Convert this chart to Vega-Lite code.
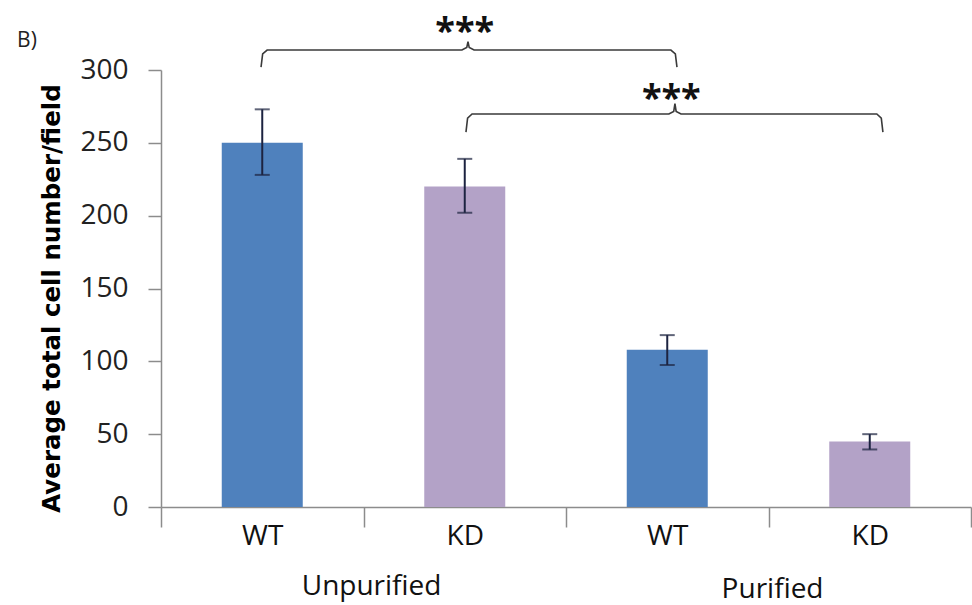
{
  "$schema": "https://vega.github.io/schema/vega-lite/v6.json",
  "width": 810,
  "height": 437,
  "autosize": {"type": "none"},
  "padding": {"left": 161, "top": 70, "right": 1, "bottom": 98},
  "background": "white",
  "config": {
    "font": "Open Sans",
    "view": {"stroke": null}
  },
  "datasets": {
    "bars": [
      {"id": "WT-U", "group": "Unpurified", "genotype": "WT", "mean": 250, "lo": 228, "hi": 273},
      {"id": "KD-U", "group": "Unpurified", "genotype": "KD", "mean": 220, "lo": 202, "hi": 239},
      {"id": "WT-P", "group": "Purified", "genotype": "WT", "mean": 108, "lo": 97.5, "hi": 118},
      {"id": "KD-P", "group": "Purified", "genotype": "KD", "mean": 45, "lo": 39.5, "hi": 50}
    ],
    "brackets": [
      {"b": "A", "k": 0, "pos": 0.494, "val": 302},
      {"b": "A", "k": 1, "pos": 0.502, "val": 311},
      {"b": "A", "k": 2, "pos": 0.524, "val": 313.7},
      {"b": "A", "k": 3, "pos": 1.486, "val": 313.7},
      {"b": "A", "k": 4, "pos": 1.510, "val": 315.5},
      {"b": "A", "k": 5, "pos": 1.516, "val": 319.5},
      {"b": "A", "k": 6, "pos": 1.522, "val": 315.5},
      {"b": "A", "k": 7, "pos": 1.546, "val": 313.7},
      {"b": "A", "k": 8, "pos": 2.518, "val": 313.7},
      {"b": "A", "k": 9, "pos": 2.540, "val": 311},
      {"b": "A", "k": 10, "pos": 2.548, "val": 302},
      {"b": "B", "k": 0, "pos": 1.506, "val": 257.4},
      {"b": "B", "k": 1, "pos": 1.514, "val": 267},
      {"b": "B", "k": 2, "pos": 1.536, "val": 269.8},
      {"b": "B", "k": 3, "pos": 2.508, "val": 269.8},
      {"b": "B", "k": 4, "pos": 2.532, "val": 271.6},
      {"b": "B", "k": 5, "pos": 2.538, "val": 277},
      {"b": "B", "k": 6, "pos": 2.544, "val": 271.6},
      {"b": "B", "k": 7, "pos": 2.568, "val": 269.8},
      {"b": "B", "k": 8, "pos": 3.535, "val": 269.8},
      {"b": "B", "k": 9, "pos": 3.557, "val": 267},
      {"b": "B", "k": 10, "pos": 3.565, "val": 257.4}
    ],
    "stars": [
      {"pos": 1.50, "val": 326, "label": "***"},
      {"pos": 2.52, "val": 280, "label": "***"}
    ],
    "groups": [
      {"pos": 1.04, "val": -55, "label": "Unpurified"},
      {"pos": 3.02, "val": -57, "label": "Purified"}
    ],
    "panel": [
      {"pos": -0.662, "val": 320, "label": "B)"}
    ]
  },
  "layer": [
    {
      "layer": [
        {
          "data": {"name": "bars"},
          "mark": {"type": "bar", "width": {"band": 0.4}},
          "encoding": {
            "x": {
              "field": "id",
              "type": "nominal",
              "sort": ["WT-U", "KD-U", "WT-P", "KD-P"],
              "scale": {"paddingInner": 0, "paddingOuter": 0},
              "axis": {
                "title": null,
                "labelExpr": "substring(datum.label, 0, 2)",
                "labelAngle": 0,
                "labelFontSize": 28,
                "labelColor": "#111111",
                "labelPadding": -5,
                "tickBand": "extent",
                "tickSize": 20,
                "tickColor": "#8c8c8c",
                "tickWidth": 1.5,
                "domainColor": "#8c8c8c",
                "domainWidth": 1.5
              }
            },
            "y": {
              "field": "mean",
              "type": "quantitative",
              "title": "Average total cell number/field",
              "scale": {"domain": [0, 300], "nice": false},
              "axis": {
                "titleFont": "DejaVu Sans",
                "titleFontSize": 24.5,
                "titleFontWeight": "bold",
                "titleColor": "#000000",
                "titleAngle": -90,
                "titleX": -109,
                "titleY": 228,
                "titleAlign": "center",
                "titleBaseline": "middle",
                "values": [0, 50, 100, 150, 200, 250, 300],
                "labelFontSize": 28,
                "labelColor": "#222222",
                "labelPadding": 20,
                "tickSize": 13,
                "tickColor": "#8c8c8c",
                "tickWidth": 1.5,
                "domainColor": "#8c8c8c",
                "domainWidth": 1.5,
                "grid": false
              }
            },
            "color": {
              "field": "genotype",
              "type": "nominal",
              "scale": {"domain": ["WT", "KD"], "range": ["#4F81BD", "#B3A2C7"]},
              "legend": null
            }
          }
        },
        {
          "data": {"name": "bars"},
          "mark": {
            "type": "errorbar",
            "color": "#1c2340",
            "thickness": 2,
            "ticks": {"size": 15, "thickness": 2, "color": "#1c2340"}
          },
          "encoding": {
            "x": {"field": "id", "type": "nominal", "sort": ["WT-U", "KD-U", "WT-P", "KD-P"]},
            "y": {"field": "lo", "type": "quantitative", "title": "Average total cell number/field", "scale": {"domain": [0, 300], "nice": false}},
            "y2": {"field": "hi"}
          }
        }
      ]
    },
    {
      "data": {"name": "brackets"},
      "mark": {"type": "line", "color": "#3a3a3a", "strokeWidth": 1.6, "clip": false},
      "encoding": {
        "x": {"field": "pos", "type": "quantitative", "scale": {"domain": [0, 4], "nice": false, "zero": false}, "axis": null},
        "y": {"field": "val", "type": "quantitative", "title": "Average total cell number/field", "scale": {"domain": [0, 300], "nice": false}},
        "detail": {"field": "b"},
        "order": {"field": "k"}
      }
    },
    {
      "data": {"name": "stars"},
      "mark": {"type": "text", "fontSize": 36, "fontWeight": "bold", "color": "#111111", "align": "center", "baseline": "middle", "letterSpacing": 3},
      "encoding": {
        "x": {"field": "pos", "type": "quantitative", "scale": {"domain": [0, 4], "nice": false, "zero": false}, "axis": null},
        "y": {"field": "val", "type": "quantitative", "title": "Average total cell number/field", "scale": {"domain": [0, 300], "nice": false}},
        "text": {"field": "label"}
      }
    },
    {
      "data": {"name": "groups"},
      "mark": {"type": "text", "fontSize": 28, "color": "#111111", "align": "center", "baseline": "middle"},
      "encoding": {
        "x": {"field": "pos", "type": "quantitative", "scale": {"domain": [0, 4], "nice": false, "zero": false}, "axis": null},
        "y": {"field": "val", "type": "quantitative", "title": "Average total cell number/field", "scale": {"domain": [0, 300], "nice": false}},
        "text": {"field": "label"}
      }
    },
    {
      "data": {"name": "panel"},
      "mark": {"type": "text", "fontSize": 21, "color": "#222222", "align": "center", "baseline": "middle"},
      "encoding": {
        "x": {"field": "pos", "type": "quantitative", "scale": {"domain": [0, 4], "nice": false, "zero": false}, "axis": null},
        "y": {"field": "val", "type": "quantitative", "title": "Average total cell number/field", "scale": {"domain": [0, 300], "nice": false}},
        "text": {"field": "label"}
      }
    }
  ],
  "resolve": {"scale": {"x": "independent", "color": "independent"}}
}
